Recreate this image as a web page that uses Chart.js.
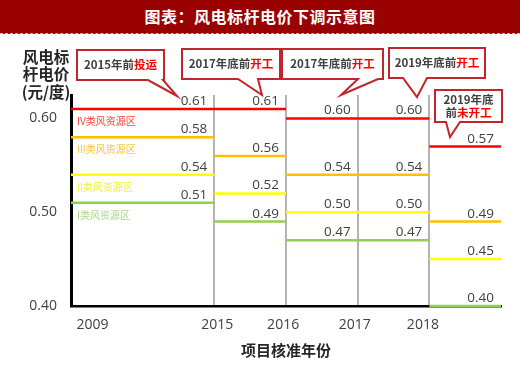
<!DOCTYPE html>
<html>
<head>
<meta charset="utf-8">
<script src="https://cdn.jsdelivr.net/npm/chart.js@4"></script>
<style>
body{margin:0;background:#fff;}
#head{width:520px;height:33px;background:#990000;color:#fff;font:bold 16px "Noto Sans CJK SC";text-align:center;line-height:33px;letter-spacing:0.5px;border-bottom:1px dashed #9dc3e6;}
canvas{display:block;}
</style>
</head>
<body>
<div id="head">图表：风电标杆电价下调示意图</div>
<canvas id="chart" width="520" height="335"></canvas>
<script>
const years = ['2009', '2015', '2016', '2017', '2018'];
const bounds = [0, 2, 3, 4, 5, 6]; // segment edges, 2009 segment is two units wide
const yTicks = [0.40, 0.50, 0.60];
const zone4 = [0.61, 0.61, 0.60, 0.60, 0.57];
const zone3 = [0.58, 0.56, 0.54, 0.54, 0.49];
const zone2 = [0.54, 0.52, 0.50, 0.50, 0.45];
const zone1 = [0.51, 0.49, 0.47, 0.47, 0.40];
const zoneNames = ['IV类风资源区', 'III类风资源区', 'II类风资源区', 'I类风资源区'];
const yTitle = ['风电标', '杆电价', '(元/度)'];
// callout text: each line = [normal part, red part]
const notes = [
    [['2015年前', '投运']],
    [['2017年底前', '开工']],
    [['2017年底前', '开工']],
    [['2019年底前', '开工']],
    [['2019年底', ''], ['前', '未开工']]
];

// where the year labels sit on the x axis
const labelAt = [0.3, 2.04, 2.96, 3.96, 4.91];
// callout boxes (pixels on canvas)
const boxes = [
    {x: 77, y: 16, w: 87, h: 30, b: [148, 163], tip: [177, 62]},
    {x: 182, y: 15, w: 98, h: 30, b: [238, 258], tip: [262, 61]},
    {x: 282, y: 15, w: 101, h: 30, b: [358, 378], tip: [341, 61]},
    {x: 389, y: 14, w: 96, h: 30, b: [403, 427], tip: [417, 63]},
    {x: 435, y: 56, w: 67, h: 32, b: [446, 460], tip: [450, 103]}
];

function steps(vals) {
    const pts = [];
    vals.forEach((v, i) => {
        pts.push({x: bounds[i], y: v}, {x: bounds[i + 1], y: v}, {x: bounds[i + 1], y: null});
    });
    return pts;
}

function zone(name, vals, color, textColor) {
    return {
        label: name,
        values: vals,
        data: steps(vals),
        borderColor: color,
        backgroundColor: color,
        textColor: textColor,
        borderWidth: 2.5,
        pointRadius: 0,
        clip: false
    };
}

// value above the end of each segment + zone name under the first one
const segLabels = {
    id: 'segLabels',
    afterDatasetsDraw(chart) {
        const {ctx} = chart;
        ctx.save();
        chart.data.datasets.forEach((ds, k) => {
            const meta = chart.getDatasetMeta(k);
            ctx.font = '13.5px "Open Sans"';
            ctx.fillStyle = '#404040';
            ctx.textAlign = 'right';
            ctx.textBaseline = 'alphabetic';
            ds.values.forEach((v, i) => {
                const p = meta.data[3 * i + 1];
                ctx.fillText(v.toFixed(2), p.x - 7, p.y - 4);
            });
            const p0 = meta.data[0];
            ctx.font = '10px "Noto Sans CJK SC"';
            ctx.fillStyle = ds.textColor;
            ctx.textAlign = 'left';
            ctx.textBaseline = 'middle';
            ctx.fillText(ds.label, p0.x + 6, p0.y + 12);
        });
        ctx.restore();
    }
};

const callouts = {
    id: 'callouts',
    afterDraw(chart) {
        const {ctx} = chart;
        ctx.save();
        // y axis title, horizontal at top left
        ctx.font = 'bold 15.5px "Noto Sans CJK SC"';
        ctx.fillStyle = '#262626';
        ctx.textAlign = 'center';
        ctx.textBaseline = 'middle';
        yTitle.forEach((t, i) => ctx.fillText(t, 46, 23 + i * 17.5));

        boxes.forEach((bx, n) => {
            const bottom = bx.y + bx.h;
            ctx.beginPath();
            ctx.moveTo(bx.x, bx.y);
            ctx.lineTo(bx.x + bx.w, bx.y);
            ctx.lineTo(bx.x + bx.w, bottom);
            ctx.lineTo(bx.b[1], bottom);
            ctx.lineTo(bx.tip[0], bx.tip[1]);
            ctx.lineTo(bx.b[0], bottom);
            ctx.lineTo(bx.x, bottom);
            ctx.closePath();
            ctx.fillStyle = '#fff';
            ctx.fill();
            ctx.lineWidth = 2;
            ctx.strokeStyle = '#c0262c';
            ctx.lineJoin = 'miter';
            ctx.stroke();

            const lines = notes[n];
            const lh = 13;
            ctx.font = 'bold 11.5px "Noto Sans CJK SC"';
            ctx.textAlign = 'left';
            lines.forEach((ln, j) => {
                const w0 = ctx.measureText(ln[0]).width;
                const w1 = ctx.measureText(ln[1]).width;
                let x = bx.x + bx.w / 2 - (w0 + w1) / 2;
                const y = bx.y + bx.h / 2 + (j - (lines.length - 1) / 2) * lh;
                ctx.fillStyle = '#404040';
                ctx.fillText(ln[0], x, y);
                ctx.fillStyle = '#ff0000';
                ctx.fillText(ln[1], x + w0, y);
            });
        });
        ctx.restore();
    }
};

const data = {
    datasets: [
        zone(zoneNames[0], zone4, '#ff0000', '#ff4040'),
        zone(zoneNames[1], zone3, '#ffc000', '#f7c443'),
        zone(zoneNames[2], zone2, '#ffff00', '#f2ef3a'),
        zone(zoneNames[3], zone1, '#92d050', '#a9d88a')
    ]
};

const config = {
    type: 'line',
    data,
    options: {
        responsive: false,
        animation: false,
        layout: {
            padding: {top: 61, right: 19, bottom: 6, left: 0}
        },
        scales: {
            x: {
                type: 'linear',
                min: 0,
                max: 6,
                afterBuildTicks: s => { s.ticks = bounds.slice(1, -1).map(v => ({value: v})); },
                afterFit: s => { s.height = 0; },
                ticks: {display: false},
                grid: {color: '#b3b3b3', lineWidth: 2, drawTicks: false},
                border: {color: '#000', width: 2.5}
            },
            xl: {
                type: 'linear',
                position: 'bottom',
                min: 0,
                max: 6,
                afterBuildTicks: s => { s.ticks = labelAt.map(v => ({value: v})); },
                afterFit: s => { s.height = 57; },
                ticks: {
                    callback: (v, i) => years[i],
                    autoSkip: false,
                    maxRotation: 0,
                    padding: 11,
                    color: '#404040',
                    font: {family: 'Open Sans', size: 14}
                },
                grid: {display: false, drawTicks: false},
                border: {display: false},
                title: {
                    display: true,
                    text: '项目核准年份',
                    color: '#262626',
                    font: {family: 'Noto Sans CJK SC', size: 15, weight: 'bold'},
                    padding: {top: 8, bottom: 4}
                }
            },
            y: {
                min: 0.40,
                max: 0.625,
                afterBuildTicks: s => { s.ticks = yTicks.map(v => ({value: v})); },
                afterFit: s => { s.width = 71; },
                ticks: {
                    callback: v => v.toFixed(2),
                    padding: 14,
                    color: '#404040',
                    font: {family: 'Open Sans', size: 14}
                },
                grid: {display: false, drawTicks: false},
                border: {color: '#000', width: 3}
            }
        },
        plugins: {
            legend: {display: false},
            tooltip: {enabled: false}
        }
    },
    plugins: [segLabels, callouts]
};

var chart = document.getElementById('chart');
var myChart = new Chart(chart, config);
</script>
</body>
</html>
